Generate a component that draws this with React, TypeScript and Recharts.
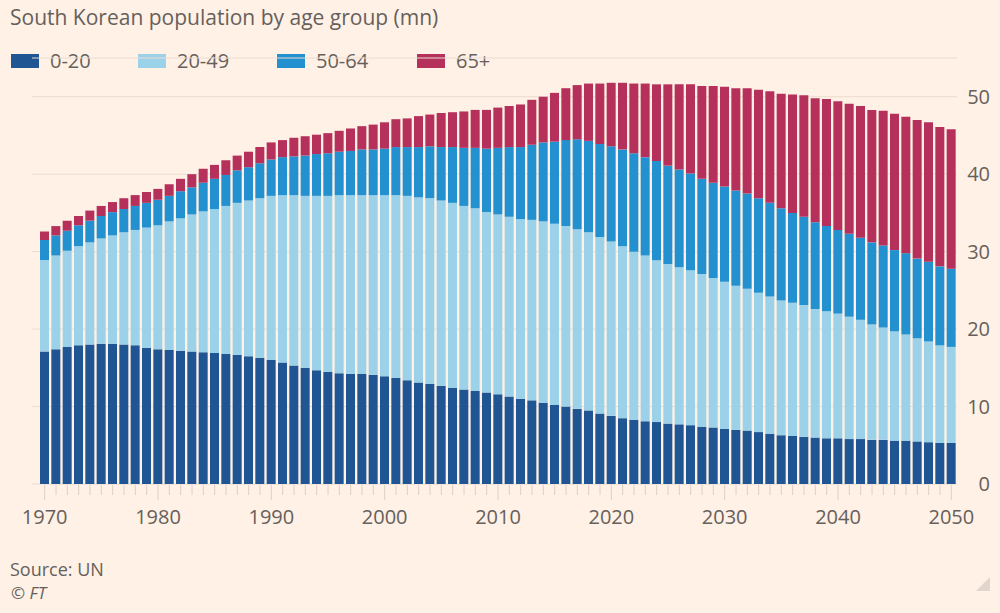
import React from 'react'
import { BarChart, Bar, XAxis, YAxis, CartesianGrid } from 'recharts'

const years = [
  1970, 1971, 1972, 1973, 1974, 1975, 1976, 1977, 1978, 1979,
  1980, 1981, 1982, 1983, 1984, 1985, 1986, 1987, 1988, 1989,
  1990, 1991, 1992, 1993, 1994, 1995, 1996, 1997, 1998, 1999,
  2000, 2001, 2002, 2003, 2004, 2005, 2006, 2007, 2008, 2009,
  2010, 2011, 2012, 2013, 2014, 2015, 2016, 2017, 2018, 2019,
  2020, 2021, 2022, 2023, 2024, 2025, 2026, 2027, 2028, 2029,
  2030, 2031, 2032, 2033, 2034, 2035, 2036, 2037, 2038, 2039,
  2040, 2041, 2042, 2043, 2044, 2045, 2046, 2047, 2048, 2049, 2050,
]

const age0to20 = [
  17.1, 17.4, 17.7, 17.9, 18.0, 18.1, 18.1, 18.0, 17.9, 17.6,
  17.4, 17.3, 17.2, 17.1, 17.0, 16.9, 16.8, 16.7, 16.5, 16.3,
  16.0, 15.7, 15.3, 15.0, 14.7, 14.5, 14.3, 14.2, 14.2, 14.1,
  13.9, 13.7, 13.4, 13.1, 12.9, 12.7, 12.4, 12.2, 12.0, 11.8,
  11.6, 11.3, 11.0, 10.8, 10.5, 10.2, 10.0, 9.7, 9.5, 9.1,
  8.8, 8.5, 8.3, 8.1, 8.0, 7.8, 7.7, 7.6, 7.4, 7.3,
  7.1, 7.0, 6.9, 6.7, 6.5, 6.3, 6.2, 6.1, 6.0, 5.9,
  5.9, 5.8, 5.8, 5.7, 5.7, 5.6, 5.6, 5.5, 5.4, 5.3, 5.3,
]

const age20to49 = [
  11.8, 12.1, 12.4, 12.8, 13.2, 13.6, 14.0, 14.5, 14.9, 15.5,
  16.0, 16.6, 17.1, 17.7, 18.2, 18.6, 19.1, 19.6, 20.1, 20.6,
  21.2, 21.6, 22.0, 22.2, 22.5, 22.7, 23.0, 23.1, 23.1, 23.2,
  23.4, 23.6, 23.8, 23.9, 24.0, 23.9, 23.9, 23.7, 23.6, 23.3,
  23.2, 23.2, 23.2, 23.3, 23.4, 23.4, 23.3, 23.2, 23.0, 22.8,
  22.5, 22.2, 21.7, 21.4, 20.9, 20.6, 20.3, 20.0, 19.7, 19.3,
  19.0, 18.6, 18.3, 18.0, 17.7, 17.4, 17.2, 17.0, 16.6, 16.4,
  16.1, 15.8, 15.4, 14.9, 14.5, 14.1, 13.7, 13.3, 13.0, 12.6, 12.4,
]

const age50to64 = [
  2.6, 2.6, 2.6, 2.7, 2.8, 2.9, 3.0, 3.0, 3.1, 3.2,
  3.3, 3.3, 3.5, 3.5, 3.7, 3.9, 4.0, 4.2, 4.3, 4.5,
  4.7, 4.9, 5.0, 5.2, 5.4, 5.5, 5.6, 5.7, 5.9, 5.9,
  6.0, 6.2, 6.3, 6.5, 6.7, 6.9, 7.2, 7.5, 7.8, 8.2,
  8.6, 9.0, 9.3, 9.7, 10.2, 10.6, 11.1, 11.6, 11.8, 12.0,
  12.3, 12.5, 12.7, 12.7, 12.8, 12.7, 12.6, 12.5, 12.3, 12.3,
  12.3, 12.3, 12.3, 12.2, 12.1, 11.9, 11.6, 11.4, 11.2, 11.0,
  10.8, 10.7, 10.6, 10.6, 10.6, 10.5, 10.5, 10.3, 10.3, 10.2, 10.1,
]

const age65plus = [
  1.1, 1.2, 1.3, 1.2, 1.3, 1.3, 1.3, 1.4, 1.4, 1.4,
  1.4, 1.5, 1.6, 1.7, 1.8, 1.8, 1.9, 1.9, 2.0, 2.1,
  2.2, 2.2, 2.4, 2.5, 2.5, 2.6, 2.7, 2.9, 3.0, 3.2,
  3.4, 3.6, 3.7, 4.0, 4.1, 4.4, 4.5, 4.7, 4.9, 5.0,
  5.2, 5.3, 5.5, 5.8, 5.9, 6.3, 6.7, 7.0, 7.4, 7.8,
  8.2, 8.6, 9.0, 9.5, 9.9, 10.5, 11.0, 11.5, 12.0, 12.5,
  12.9, 13.2, 13.6, 14.0, 14.4, 14.8, 15.3, 15.7, 16.0, 16.4,
  16.6, 16.8, 17.0, 17.1, 17.4, 17.6, 17.6, 17.9, 18.0, 18.0, 18.0,
]

const yTicks = [0, 10, 20, 30, 40, 50]

const series = [
  { key: 'a', label: '0-20', color: '#1f5592' },
  { key: 'b', label: '20-49', color: '#9bd2ea' },
  { key: 'c', label: '50-64', color: '#2391d0' },
  { key: 'd', label: '65+', color: '#b6305c' },
]

const data = years.map((year, i) => ({
  year,
  a: age0to20[i],
  b: age20to49[i],
  c: age50to64[i],
  d: age65plus[i],
}))

const FONT = '"Open Sans", sans-serif'
const TEXT = '#66605c'

function XTick({ x, y, payload }: any) {
  const major = payload.value % 10 === 0
  return (
    <g>
      <line x1={x} x2={x} y1={y + 1} y2={y + (major ? 16 : 11)} stroke="#dcd0c5" strokeWidth={1} />
      {major && (
        <text x={x} y={y + 40} textAnchor="middle" fill={TEXT} fontSize={20} fontFamily={FONT}>
          {payload.value}
        </text>
      )}
    </g>
  )
}

function YTick({ x, y, payload }: any) {
  return (
    <text x={x + 33} y={y + 7} textAnchor="end" fill={TEXT} fontSize={20} fontFamily={FONT}>
      {payload.value}
    </text>
  )
}

export default function App() {
  return (
    <div style={{ position: 'absolute', left: 0, top: 0, width: 1000, height: 613, background: '#fff1e5', fontFamily: FONT, color: TEXT }}>
      <div style={{ position: 'absolute', left: 10, top: 3, fontSize: 21, whiteSpace: 'nowrap' }}>
        South Korean population by age group (mn)
      </div>
      {series.map((s, i) => (
        <div key={s.key} style={{ position: 'absolute', left: [11, 138, 277, 417][i], top: 47, display: 'flex', alignItems: 'center', fontSize: 20 }}>
          <span style={{ display: 'inline-block', width: 28, height: 14, background: s.color, marginRight: 11 }} />
          <span>{s.label}</span>
        </div>
      ))}
      <div style={{ position: 'absolute', left: 0, top: 0 }}>
        <BarChart width={1000} height={613} data={data} margin={{ top: 58, right: 0, bottom: 0, left: 32 }} barSize={9}>
          <CartesianGrid vertical={false} stroke="#eadcd0" />
          <XAxis
            dataKey="year"
            interval={0}
            height={129}
            tickSize={0}
            tickMargin={0}
            axisLine={false}
            tickLine={false}
            padding={{ left: 7, right: 0 }}
            tick={(p: any) => <XTick {...p} />}
          />
          <YAxis
            orientation="right"
            width={43}
            domain={[0, 55]}
            ticks={yTicks}
            tickSize={0}
            tickMargin={0}
            axisLine={false}
            tickLine={false}
            tick={(p: any) => <YTick {...p} />}
          />
          {series.map((s) => (
            <Bar key={s.key} dataKey={s.key} name={s.label} stackId="pop" fill={s.color} isAnimationActive={false} />
          ))}
        </BarChart>
      </div>
      <div style={{ position: 'absolute', left: 10, top: 560, fontSize: 18, lineHeight: '18px' }}>Source: UN</div>
      <div style={{ position: 'absolute', left: 11, top: 584, fontSize: 17, lineHeight: '17px', fontStyle: 'italic' }}>© FT</div>
      <svg style={{ position: 'absolute', left: 976, top: 577 }} width={14} height={14}>
        <polygon points="14,0 14,14 0,14" fill="#e0d6cd" />
      </svg>
    </div>
  )
}
